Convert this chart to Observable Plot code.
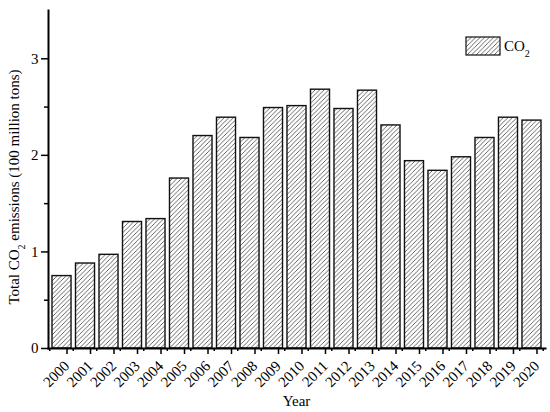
<!DOCTYPE html>
<html><head><meta charset="utf-8">
<script src="https://cdn.jsdelivr.net/npm/d3@7"></script>
<script src="https://cdn.jsdelivr.net/npm/@observablehq/plot@0.6"></script>
<style>body{margin:0;background:#fff}</style>
</head><body><div id="chart"></div>
<script>
const years = ["2000","2001","2002","2003","2004","2005","2006","2007","2008","2009","2010","2011","2012","2013","2014","2015","2016","2017","2018","2019","2020"];
const co2 = [0.75,0.88,0.97,1.31,1.34,1.76,2.20,2.39,2.18,2.49,2.51,2.68,2.48,2.67,2.31,1.94,1.84,1.98,2.18,2.39,2.36];
const yMajorTicks = [0,1,2,3];
const yMinorTicks = [0.5,1.5,2.5];
const seriesName = "CO";
const seriesSub = "2";
const xTitle = "Year";
const yTitleParts = ["Total CO", "2", " emissions (100 million tons)"];

const data = years.map((y, i) => ({year: y, value: co2[i]}));
const font = "'Liberation Serif', 'Times New Roman', serif";

const chart = Plot.plot({
  width: 550, height: 412,
  marginLeft: 48, marginRight: 5, marginTop: 10, marginBottom: 64,
  style: {fontFamily: font, fontSize: "15px", background: "#fff", color: "#000"},
  x: {domain: years, paddingInner: 0.19, paddingOuter: 0.17, round: false, label: null},
  y: {domain: [0, 3.5], label: null},
  marks: [
    Plot.barY(data, {x: "year", y: "value", fill: "url(#hatch)", stroke: "#111", strokeWidth: 1.4}),
    Plot.axisY({ticks: yMajorTicks, tickSize: 7, tickPadding: 3, fontSize: 15, tickFormat: d => d, label: null, strokeWidth: 1.5}),
    Plot.axisY({ticks: yMinorTicks, tickSize: 4, tickFormat: () => "", label: null, strokeWidth: 1.5}),
    Plot.axisX({tickSize: 6, tickRotate: -45, tickPadding: 9, dx: 5, fontSize: 15, label: null, strokeWidth: 1.5}),
    Plot.frame({anchor: "left", strokeWidth: 2}),
    Plot.frame({anchor: "bottom", strokeWidth: 2})
  ]
});

const svg = d3.select(chart);
const defs = svg.insert("defs", ":first-child");
const pat = defs.append("pattern").attr("id", "hatch").attr("patternUnits", "userSpaceOnUse")
  .attr("width", 4.5).attr("height", 4.5);
pat.append("rect").attr("width", 4.5).attr("height", 4.5).attr("fill", "#fff");
pat.append("path").attr("d", "M0,4.5 L4.5,0 M-1,1 L1,-1 M3.5,5.5 L5.5,3.5")
  .attr("stroke", "#333").attr("stroke-width", 0.75);

const sx = chart.scale("x");
const sy = chart.scale("y");
const y0 = sy.apply(0);
const xs = years.map(y => sx.apply(y));
const gap = sx.step - sx.bandwidth;

// minor x ticks at band boundaries
const bounds = xs.map(x => x - gap / 2);
bounds.push(xs[xs.length - 1] + sx.bandwidth + gap / 2);
svg.append("g").attr("stroke", "#000").attr("stroke-width", 1.5)
  .selectAll("line").data(bounds).join("line")
  .attr("x1", d => d).attr("x2", d => d).attr("y1", y0).attr("y2", y0 + 3);

// x title
svg.append("text").attr("x", (sx.range[0] + sx.range[1]) / 2).attr("y", 406)
  .attr("text-anchor", "middle").attr("font-family", font).attr("font-size", 15).attr("fill", "#000")
  .text(xTitle);

// y title with subscript
const yMid = (sy.apply(0) + sy.apply(3.5)) / 2 + 8;
const yt = svg.append("text")
  .attr("transform", `translate(19,${yMid}) rotate(-90)`)
  .attr("text-anchor", "middle").attr("font-family", font).attr("font-size", 15).attr("fill", "#000");
yt.append("tspan").text(yTitleParts[0]);
yt.append("tspan").attr("baseline-shift", "sub").attr("font-size", 10).text(yTitleParts[1]);
yt.append("tspan").text(yTitleParts[2]);

// legend
const lx = 466, ly = 37;
const lg = svg.append("g");
lg.append("rect").attr("x", lx).attr("y", ly).attr("width", 34).attr("height", 18)
  .attr("fill", "url(#hatch)").attr("stroke", "#111").attr("stroke-width", 1.2);
const lt = lg.append("text").attr("x", lx + 38).attr("y", ly + 14).attr("text-anchor", "start")
  .attr("font-family", font).attr("font-size", 15).attr("fill", "#000");
lt.append("tspan").text(seriesName);
lt.append("tspan").attr("baseline-shift", "sub").attr("font-size", 10).text(seriesSub);

document.getElementById("chart").appendChild(chart);
</script>
</body></html>
